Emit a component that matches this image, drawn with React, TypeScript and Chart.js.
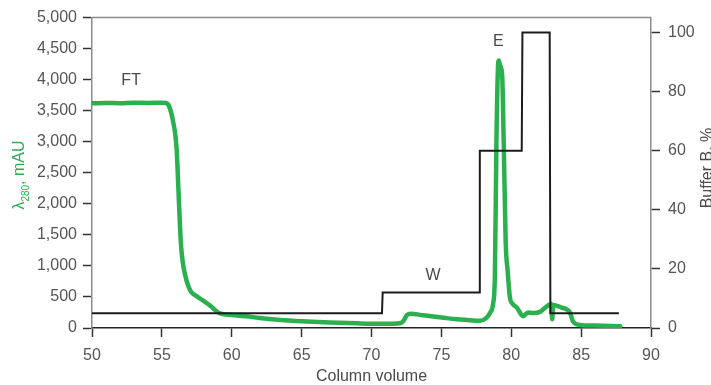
import React, { useEffect, useRef } from 'react';
import { Chart, registerables } from 'chart.js';

Chart.register(...registerables);

// ---- Data ----
const uvVolume = [
  50.0, 51.0, 52.0, 53.0, 54.0, 55.0, 55.3, 55.5, 55.8, 56.05, 56.2, 56.35, 56.5, 56.65, 56.85,
  57.1, 57.5, 57.95, 58.4, 58.7, 59.15, 60.0, 61.0, 62.0, 63.5, 65.0, 67.0, 69.0, 70.6, 71.5,
  72.1, 72.3, 72.55, 72.8, 73.7, 75.0, 76.1, 77.0, 77.75, 78.2, 78.5, 78.7, 78.83, 78.94, 79.05,
  79.11, 79.2, 79.35, 79.46, 79.6, 79.75, 79.9, 80.1, 80.4, 80.85, 81.2, 81.57, 82.05, 82.5, 82.85,
  82.93, 83.0, 83.2, 83.6, 83.96, 84.2, 84.43, 84.9, 86.0, 87.8,
];
const uvAbsorbance = [
  3620, 3625, 3620, 3630, 3625, 3630, 3625, 3580, 3330, 2900, 2150, 1400, 1050, 870, 700,
  580, 510, 440, 370, 310, 235, 210, 190, 160, 130, 110, 90, 75, 68, 68,
  80, 120, 210, 230, 205, 170, 140, 125, 115, 160, 250, 390, 870, 3000, 4200,
  4310, 4230, 4070, 3000, 1400, 900, 500, 390, 330, 190, 250, 240, 260, 340, 390,
  140, 370, 360, 330, 300, 250, 100, 50, 40, 30,
];

const bufferVolume = [50, 70.75, 70.8, 77.7, 77.75, 80.75, 80.8, 82.75, 82.8, 87.7];
const bufferB = [5, 5, 12, 12, 60, 60, 100, 100, 5, 5];

const xTickStep = 5;
const leftTickStep = 500;
const rightTickStep = 20;

const phaseLabels = ['FT', 'W', 'E'];
const phaseVolume = [52.8, 74.4, 79.08];
const phaseAbsorbance = [3990, 843, 4620];

const FONT = '"Liberation Sans", Arial, Helvetica, sans-serif';
const GREEN = 'rgb(42, 176, 78)';
const TITLE_GREEN = 'rgb(46, 172, 84)';

const overlayPlugin = {
  id: 'overlay',
  afterDraw(chart: any) {
    const { ctx, chartArea: ca, scales } = chart;
    ctx.save();
    // top frame line
    ctx.strokeStyle = '#8c8c8c';
    ctx.lineWidth = 1.5;
    ctx.beginPath();
    ctx.moveTo(ca.left, ca.top);
    ctx.lineTo(ca.right, ca.top);
    ctx.stroke();

    // phase annotations
    ctx.fillStyle = '#4a4a4a';
    ctx.font = `16px ${FONT}`;
    ctx.textAlign = 'center';
    ctx.textBaseline = 'middle';
    phaseLabels.forEach((t, i) => {
      ctx.fillText(t, scales.x.getPixelForValue(phaseVolume[i]), scales.y.getPixelForValue(phaseAbsorbance[i]));
    });

    // left title: λ280, mAU (rotated)
    const parts = [
      { t: 'λ', size: 16, dy: 0 },
      { t: '280', size: 10, dy: 5 },
      { t: ', mAU', size: 16, dy: 0 },
    ];
    let total = 0;
    parts.forEach((p) => {
      ctx.font = `${p.size}px ${FONT}`;
      total += ctx.measureText(p.t).width;
    });
    ctx.save();
    ctx.translate(23.5, 175);
    ctx.rotate(-Math.PI / 2);
    ctx.fillStyle = TITLE_GREEN;
    ctx.textAlign = 'left';
    ctx.textBaseline = 'alphabetic';
    let x = -total / 2;
    parts.forEach((p) => {
      ctx.font = `${p.size}px ${FONT}`;
      ctx.fillText(p.t, x, p.dy);
      x += ctx.measureText(p.t).width;
    });
    ctx.restore();

    // right title
    ctx.save();
    ctx.translate(712, 168);
    ctx.rotate(-Math.PI / 2);
    ctx.fillStyle = '#4a4a4a';
    ctx.font = `16px ${FONT}`;
    ctx.textAlign = 'center';
    ctx.textBaseline = 'alphabetic';
    ctx.fillText('Buffer B, %', 0, 0);
    ctx.restore();

    // bottom title
    ctx.fillStyle = '#4a4a4a';
    ctx.font = `16px ${FONT}`;
    ctx.textAlign = 'center';
    ctx.textBaseline = 'middle';
    ctx.fillText('Column volume', (ca.left + ca.right) / 2, 377);
    ctx.restore();
  },
};

export default function App() {
  const ref = useRef<HTMLCanvasElement>(null);

  useEffect(() => {
    if (!ref.current) return;
    Chart.defaults.font.family = FONT;
    const chart = new Chart(ref.current, {
      type: 'line',
      data: {
        datasets: [
          {
            label: 'Buffer B',
            data: bufferVolume.map((v, i) => ({ x: v, y: bufferB[i] })),
            yAxisID: 'y1',
            borderColor: '#1c1c1c',
            borderWidth: 2,
            pointRadius: 0,
            tension: 0,
            fill: false,
          },
          {
            label: 'A280',
            data: uvVolume.map((v, i) => ({ x: v, y: uvAbsorbance[i] })),
            yAxisID: 'y',
            borderColor: GREEN,
            borderWidth: 4.5,
            pointRadius: 0,
            cubicInterpolationMode: 'monotone',
            fill: false,
            borderCapStyle: 'round',
            borderJoinStyle: 'round',
          },
        ],
      },
      options: {
        animation: false,
        responsive: false,
        layout: { padding: { top: 15, left: 0, right: 0, bottom: 0 } },
        plugins: { legend: { display: false }, tooltip: { enabled: false } },
        scales: {
          x: {
            type: 'linear',
            position: 'bottom',
            min: 50,
            max: 90,
            afterFit: (s: any) => { s.height = 57; },
            ticks: { stepSize: xTickStep, color: '#555', font: { size: 16 }, padding: 9 },
            grid: { drawOnChartArea: false, color: '#333', tickLength: 9, tickWidth: 1.5 },
            border: { color: '#222', width: 1.5 },
          },
          y: {
            type: 'linear',
            position: 'left',
            min: 0,
            max: 5000,
            afterFit: (s: any) => { s.width = 92; },
            ticks: {
              stepSize: leftTickStep,
              color: '#555',
              font: { size: 16 },
              padding: 6,
              callback: (v: any) => Number(v).toLocaleString('en-US'),
            },
            grid: { drawOnChartArea: false, color: '#333', tickLength: 9, tickWidth: 1.5 },
            border: { color: '#8c8c8c', width: 1.5 },
          },
          y1: {
            type: 'linear',
            position: 'right',
            min: 0,
            max: 105,
            afterFit: (s: any) => { s.width = 60; },
            ticks: { stepSize: rightTickStep, color: '#555', font: { size: 16 }, padding: 8, includeBounds: false },
            grid: { drawOnChartArea: false, color: '#333', tickLength: 9, tickWidth: 1.5 },
            border: { color: '#8c8c8c', width: 1.5 },
          },
        },
      },
      plugins: [overlayPlugin],
    } as any);
    return () => chart.destroy();
  }, []);

  return (
    <div style={{ position: 'absolute', left: 0, top: 0, width: 711, height: 385, background: '#fff' }}>
      <canvas ref={ref} width={711} height={385} style={{ display: 'block' }} />
    </div>
  );
}
